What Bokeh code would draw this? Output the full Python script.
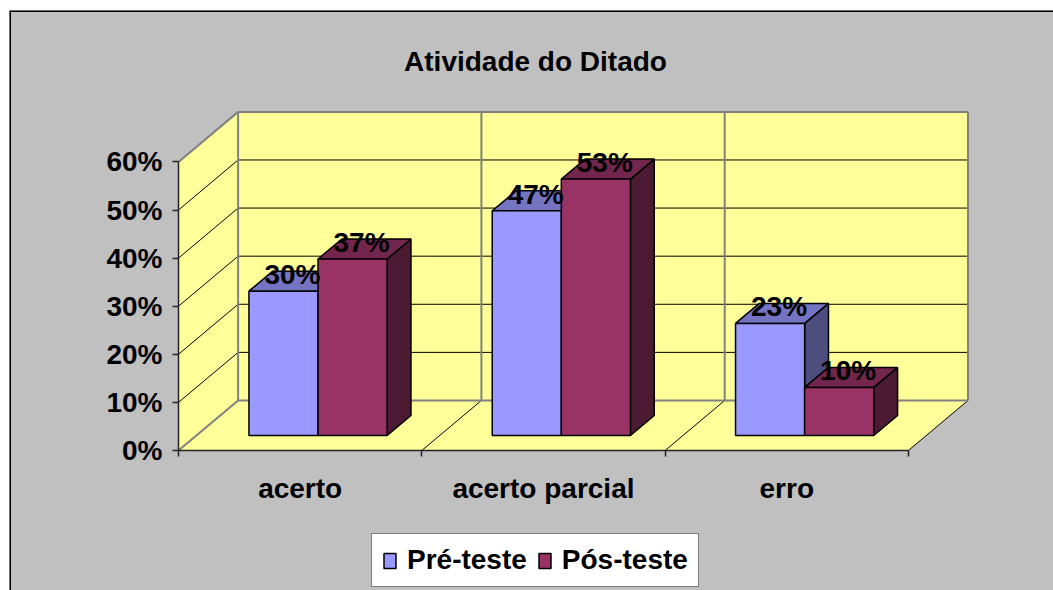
from bokeh.plotting import figure
from bokeh.models import (LinearAxis, FixedTicker, NumeralTickFormatter, Legend, LegendItem,
                          Label, Span, Range1d, ColumnDataSource)
from bokeh.embed import file_html
from bokeh.resources import INLINE

# ---------------- data ----------------
chart_title = "Atividade do Ditado"
categories = ["acerto", "acerto parcial", "erro"]
series_names = ["Pré-teste", "Pós-teste"]
pre_teste = [0.300, 0.467, 0.233]
pos_teste = [0.367, 0.533, 0.100]
y_ticks = [0.0, 0.1, 0.2, 0.3, 0.4, 0.5, 0.6]

# ---------------- style / geometry ----------------
W, H = 1053, 590
LEFT, TOP = 9, 10                # white margin outside the chart box
FW, FH = W - LEFT, H - TOP       # frame size
PX_X = 243.3          # pixels per category
PX_Y = 481.0          # pixels per unit (100%)
ORIGIN_X, ORIGIN_Y = 178 - LEFT, 450 - TOP   # data origin inside the frame (px from left / top)
DEPTH_X, DEPTH_Y = 0.245, 0.104  # full depth offset in data units
BAR_W = 0.284
BAR_D0, BAR_D1 = 0.3, 0.7
LABEL_D = 0.45
LABEL_LIFT = -9       # px
FONT = "Liberation Sans"

front_cols = ["#9999FF", "#993366"]
top_cols = ["#7474C2", "#73264D"]
side_cols = ["#4D4D80", "#4D1A33"]
wall_col = "#FFFF99"
bg_col = "#C0C0C0"
edge_gray = "#808080"

n = len(categories)
ymax = y_ticks[-1]


def P(x, y, d):
    return x + d * DEPTH_X, y + d * DEPTH_Y


def poly(pts):
    xs, ys = zip(*[P(*pt) for pt in pts])
    return list(xs), list(ys)


def seg(a, b):
    (x0, y0), (x1, y1) = P(*a), P(*b)
    return [x0, x1], [y0, y1]


p = figure(width=W, height=H,
           x_range=Range1d(-ORIGIN_X / PX_X, (FW - ORIGIN_X) / PX_X),
           y_range=Range1d(-(FH - ORIGIN_Y) / PX_Y, ORIGIN_Y / PX_Y),
           x_axis_location=None, y_axis_location=None,
           toolbar_location=None, output_backend="svg",
           min_border_left=LEFT, min_border_top=TOP, min_border_right=0, min_border_bottom=0,
           background_fill_color=bg_col, border_fill_color="#FFFFFF",
           outline_line_color=None)
p.grid.visible = False

# ---------------- walls & floor ----------------
walls = [
    [(0, 0, 0), (n, 0, 0), (n, 0, 1), (0, 0, 1)],          # floor
    [(0, 0, 0), (0, 0, 1), (0, ymax, 1), (0, ymax, 0)],    # left wall
    [(0, 0, 1), (n, 0, 1), (n, ymax, 1), (0, ymax, 1)],    # back wall
]
wx, wy = zip(*[poly(w) for w in walls])
p.patches(list(wx), list(wy), fill_color=wall_col, line_color=None)

# gridlines (black)
gx, gy = [], []
for t in y_ticks[1:-1]:
    for a, b in [((0, t, 0), (0, t, 1)), ((0, t, 1), (n, t, 1))]:
        sx, sy = seg(a, b)
        gx.append(sx); gy.append(sy)
for i in range(1, n + 1):
    sx, sy = seg((i, 0, 0), (i, 0, 1))
    gx.append(sx); gy.append(sy)
sx, sy = seg((0, 0, 0), (n, 0, 0))
gx.append(sx); gy.append(sy)
p.multi_line(gx, gy, line_color="#000000", line_width=1)

# gray edges & category dividers on back wall
ex, ey = [], []
for i in range(1, n):
    sx, sy = seg((i, 0, 1), (i, ymax, 1))
    ex.append(sx); ey.append(sy)
for a, b in [((0, ymax, 0), (0, ymax, 1)), ((0, 0, 0), (0, 0, 1)),
             ((0, 0, 1), (n, 0, 1)), ((n, 0, 1), (n, ymax, 1)),
             ((n, ymax, 1), (0, ymax, 1)), ((0, ymax, 1), (0, 0, 1))]:
    sx, sy = seg(a, b)
    ex.append(sx); ey.append(sy)
p.multi_line(ex, ey, line_color=edge_gray, line_width=2)

# ---------------- 3D bars ----------------
front_renderers = []
for s, vals in enumerate([pre_teste, pos_teste]):
    fx, fy, tx, ty, sxs, sys_ = [], [], [], [], [], []
    for i, v in enumerate(vals):
        x0 = i + 0.5 + (s - 1) * BAR_W
        x1 = x0 + BAR_W
        a, b = poly([(x0, 0, BAR_D0), (x1, 0, BAR_D0), (x1, v, BAR_D0), (x0, v, BAR_D0)])
        fx.append(a); fy.append(b)
        a, b = poly([(x0, v, BAR_D0), (x1, v, BAR_D0), (x1, v, BAR_D1), (x0, v, BAR_D1)])
        tx.append(a); ty.append(b)
        a, b = poly([(x1, 0, BAR_D0), (x1, 0, BAR_D1), (x1, v, BAR_D1), (x1, v, BAR_D0)])
        sxs.append(a); sys_.append(b)
    p.patches(sxs, sys_, fill_color=side_cols[s], line_color="#000000", line_width=1.5)
    p.patches(tx, ty, fill_color=top_cols[s], line_color="#000000", line_width=1.5)
    r = p.patches(fx, fy, fill_color=front_cols[s], line_color="#000000", line_width=1.5)
    front_renderers.append(r)

# data labels
lx, ly, lt = [], [], []
for s, vals in enumerate([pre_teste, pos_teste]):
    for i, v in enumerate(vals):
        cx = i + 0.5 + (s - 0.5) * BAR_W
        x, y = P(cx, v, LABEL_D)
        lx.append(x); ly.append(y); lt.append(f"{round(v * 100):d}%")
p.text(x="x", y="y", text="t", source=ColumnDataSource(dict(x=lx, y=ly, t=lt)),
       text_align="center", text_baseline="alphabetic", y_offset=LABEL_LIFT,
       text_font={"value": FONT}, text_font_style="bold", text_font_size="28px",
       text_color="#000000")

# ---------------- axes ----------------
yaxis = LinearAxis(fixed_location=0, ticker=FixedTicker(ticks=y_ticks),
                   formatter=NumeralTickFormatter(format="0%"), bounds=(0, ymax))
yaxis.major_tick_out = 6
yaxis.major_tick_in = 0
yaxis.minor_tick_out = 0
yaxis.minor_tick_in = 0
yaxis.major_label_standoff = 10
yaxis.axis_line_color = "#222222"
yaxis.axis_line_width = 1.5
yaxis.major_tick_line_color = "#222222"
yaxis.major_tick_line_width = 1.5
yaxis.major_label_text_font = FONT
yaxis.major_label_text_font_style = "bold"
yaxis.major_label_text_font_size = "28px"
yaxis.major_label_text_color = "#000000"
p.add_layout(yaxis, "left")

cat_pos = [i + 0.5 for i in range(n)]
xaxis = LinearAxis(fixed_location=0,
                   ticker=FixedTicker(ticks=cat_pos, minor_ticks=list(range(n + 1))),
                   major_label_overrides={c: lab for c, lab in zip(cat_pos, categories)},
                   bounds=(0, n))
xaxis.major_tick_out = 0
xaxis.major_tick_in = 0
xaxis.minor_tick_out = 6
xaxis.minor_tick_in = 0
xaxis.minor_tick_line_color = "#222222"
xaxis.minor_tick_line_width = 1.5
xaxis.axis_line_color = "#222222"
xaxis.axis_line_width = 1.5
xaxis.major_label_standoff = 16
xaxis.major_label_text_font = FONT
xaxis.major_label_text_font_style = "bold"
xaxis.major_label_text_font_size = "28px"
xaxis.major_label_text_color = "#000000"
p.add_layout(xaxis, "below")

# ---------------- title ----------------
p.add_layout(Label(x=535 - LEFT, y=FH - (61 - TOP), x_units="screen", y_units="screen",
                   text=chart_title, text_align="center", text_baseline="alphabetic",
                   text_font=FONT, text_font_style="bold", text_font_size="28px",
                   text_color="#000000"))

# ---------------- legend ----------------
legend = Legend(items=[LegendItem(label=series_names[k], renderers=[front_renderers[k]])
                       for k in range(2)],
                orientation="horizontal", location=(371 - LEFT, FH - (587 - TOP)), margin=0,
                glyph_width=15, glyph_height=19, label_standoff=10, spacing=10, padding=10,
                label_text_font=FONT, label_text_font_style="bold", label_text_font_size="28px",
                label_text_color="#000000",
                border_line_color="#000000", border_line_width=1.5,
                background_fill_color="#FFFFFF", background_fill_alpha=1.0)
p.add_layout(legend, "center")

# outer chart border (top and left)
p.add_layout(Span(location=p.y_range.end, dimension="width", line_color="#000000", line_width=3))
p.add_layout(Span(location=p.x_range.start, dimension="height", line_color="#000000", line_width=3))

open("out.html", "w").write(file_html(p, INLINE))
